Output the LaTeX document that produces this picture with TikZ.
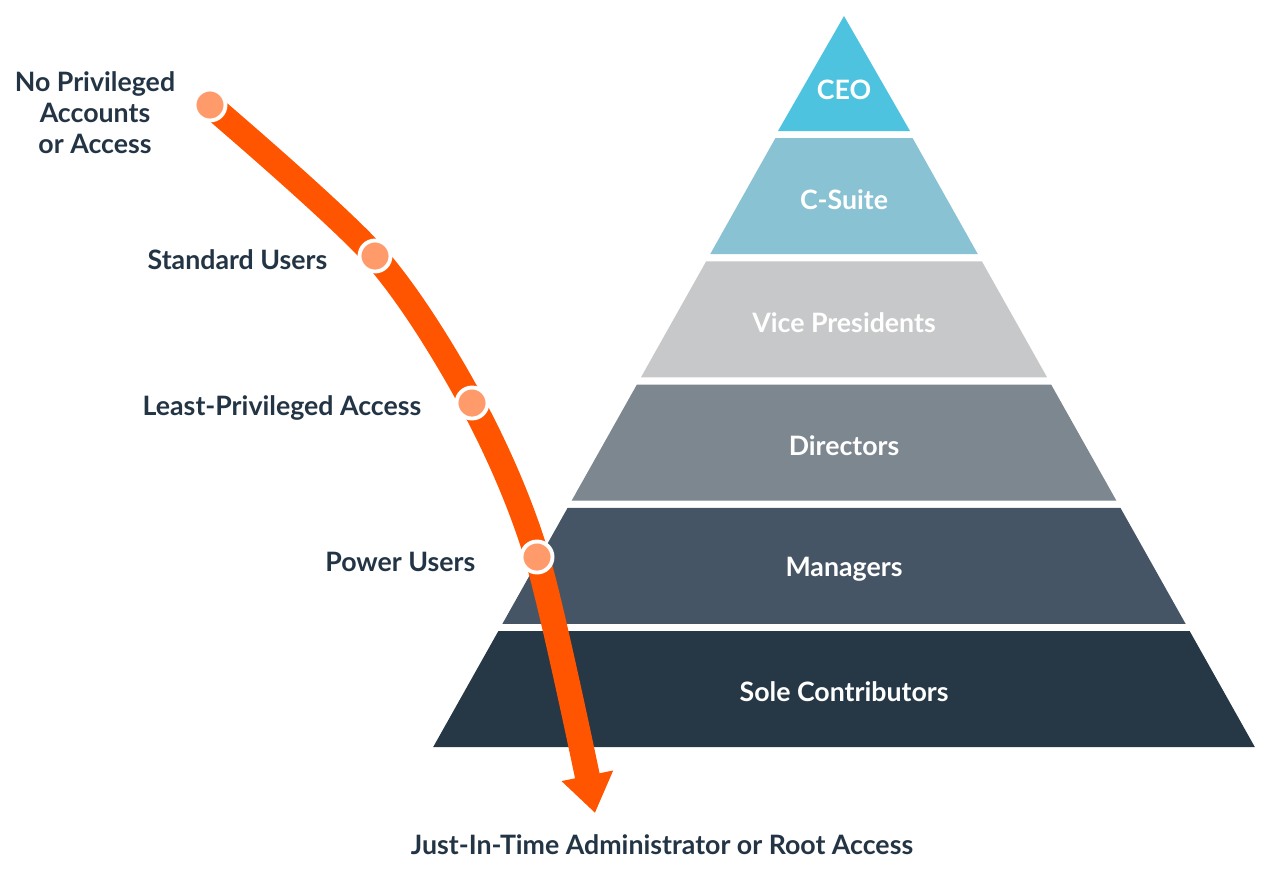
\documentclass[tikz,border=0pt]{standalone}
\usepackage{fontspec}
\setmainfont{Lato}
\usetikzlibrary{arrows.meta}
\definecolor{ceo}{HTML}{4EC3E0}
\definecolor{csuite}{HTML}{89C2D3}
\definecolor{vp}{HTML}{C7C8C9}
\definecolor{dir}{HTML}{7D878F}
\definecolor{mgr}{HTML}{465565}
\definecolor{sole}{HTML}{263746}
\definecolor{ink}{HTML}{233445}
\definecolor{trail}{HTML}{FF5500}
\definecolor{stopfill}{HTML}{FF9A6B}

\begin{document}
\begin{tikzpicture}[x=0.01cm,y=-0.01cm,
  lvl/.style={font=\bfseries\fontsize{7.6}{8}\selectfont, text=white},
  lbl/.style={font=\bfseries\fontsize{7.6}{8.8}\selectfont, text=ink, align=center, inner sep=0pt},
  stopdot/.style={circle, fill=stopfill, draw=white, line width=1.1pt, minimum size=0.31cm, inner sep=0pt}]
 \useasboundingbox (0,0) rectangle (1280,875);
 \pgfmathsetmacro{\sl}{0.562}

 % pyramid
 \fill[ceo] (844,16) -- (910,131) -- (778,131) -- cycle;
 \node[lvl] (lay0) at (844,90) {CEO};
 \foreach \i/\col/\txt in {1/csuite/C-Suite,2/vp/Vice Presidents,3/dir/Directors,4/mgr/Managers,5/sole/Sole Contributors}{
   \pgfmathsetmacro{\yb}{131+123.2*\i}
   \pgfmathsetmacro{\yt}{\yb-116}
   \pgfmathsetmacro{\wt}{\sl*(\yt-16)}
   \pgfmathsetmacro{\wb}{\sl*(\yb-16)}
   \fill[\col] (844-\wt,\yt) -- (844+\wt,\yt) -- (844+\wb,\yb) -- (844-\wb,\yb) -- cycle;
   \node[lvl] (lay\i) at (844,{(\yt+\yb)/2+3}) {\txt};
 }

 % access path
 \coordinate (p1) at (210,105);
 \coordinate (p2) at (375,256);
 \coordinate (p3) at (472,403);
 \coordinate (p4) at (537,557);
 \coordinate (tip) at (595,813);
 \draw[trail, line width=0.25cm, -{Triangle[width=0.5cm,length=0.38cm]}]
   plot[smooth] coordinates {(p1) (p2) (p3) (p4) (tip)};
 \foreach \n in {1,2,3,4}{
   \node[stopdot] (d\n) at (p\n) {};
 }

 \node[lbl] (noacc) at (95,113) {No Privileged\\Accounts\\or Access};
 \node[lbl, anchor=east] (std) at (328,260) {Standard Users};
 \node[lbl, anchor=east] (lpa) at (422,408) {Least-Privileged Access};
 \node[lbl, anchor=east] (pwr) at (476,562) {Power Users};
 \node[lbl] (jit) at (662,845) {Just-In-Time Administrator or Root Access};
\end{tikzpicture}
\end{document}
